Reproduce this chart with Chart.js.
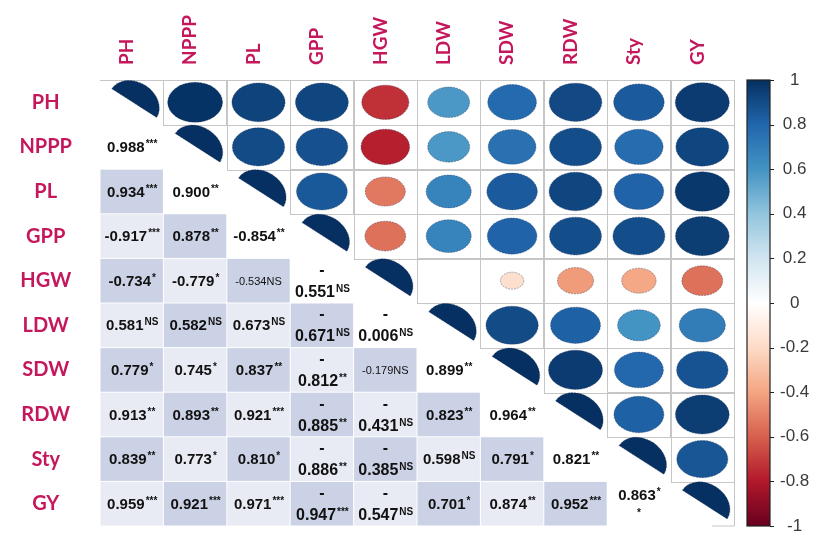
<!DOCTYPE html>
<html>
<head>
<meta charset="utf-8">
<script src="https://cdn.jsdelivr.net/npm/chart.js@4.4.1/dist/chart.umd.min.js"></script>
<style>
  html, body { margin: 0; padding: 0; background: #fff; }
  #wrap { width: 829px; height: 543px; }
</style>
</head>
<body>
<div id="wrap"><canvas id="grafico" width="829" height="543"></canvas></div>
<script>
const variaveis = ["PH", "NPPP", "PL", "GPP", "HGW", "LDW", "SDW", "RDW", "Sty", "GY"];

// triangulo inferior: r (linha i, coluna j < i)
const correlacoes = [
  [],
  [0.988],
  [0.934, 0.900],
  [-0.917, 0.878, -0.854],
  [-0.734, -0.779, -0.534, -0.551],
  [0.581, 0.582, 0.673, -0.671, -0.006],
  [0.779, 0.745, 0.837, -0.812, -0.179, 0.899],
  [0.913, 0.893, 0.921, -0.885, -0.431, 0.823, 0.964],
  [0.839, 0.773, 0.810, -0.886, -0.385, 0.598, 0.791, 0.821],
  [0.959, 0.921, 0.971, -0.947, -0.547, 0.701, 0.874, 0.952, 0.863]
];

const significancia = [
  [],
  ["***"],
  ["***", "**"],
  ["***", "**", "**"],
  ["*", "*", "NS", "NS"],
  ["NS", "NS", "NS", "NS", "NS"],
  ["*", "*", "**", "**", "NS", "**"],
  ["**", "**", "***", "**", "NS", "**", "**"],
  ["**", "*", "*", "**", "NS", "NS", "*", "**"],
  ["***", "***", "***", "***", "NS", "*", "**", "***", "**"]
];

const elipses = [
  [0.99, 0.93, 0.92, -0.73, 0.58, 0.78, 0.91, 0.84, 0.96],
  [0.90, 0.88, -0.78, 0.58, 0.75, 0.89, 0.77, 0.92],
  [0.85, -0.53, 0.67, 0.84, 0.92, 0.81, 0.97],
  [-0.55, 0.67, 0.81, 0.89, 0.89, 0.95],
  [0.006, -0.18, -0.43, -0.39, -0.55],
  [0.90, 0.82, 0.60, 0.70],
  [0.96, 0.79, 0.87],
  [0.82, 0.95],
  [0.86],
  []
];

const ticksBarra = [1, 0.8, 0.6, 0.4, 0.2, 0, -0.2, -0.4, -0.6, -0.8, -1];

const paleta = ["#67001F", "#B2182B", "#D6604D", "#F4A582", "#FDDBC7", "#FFFFFF",
                "#D1E5F0", "#92C5DE", "#4393C3", "#2166AC", "#053061"];

// celulas com texto em formato diferente
const textoPequeno = { "4,2": true, "6,4": true };
const textoQuebrado = { "9,8": true };

const corRotulo = "#c4175c";

function hexParaRgb(h) {
  return [parseInt(h.slice(1, 3), 16), parseInt(h.slice(3, 5), 16), parseInt(h.slice(5, 7), 16)];
}

function corPara(r) {
  const t = (r + 1) / 2 * (paleta.length - 1);
  const i = Math.min(Math.floor(t), paleta.length - 2);
  const f = t - i;
  const a = hexParaRgb(paleta[i]);
  const b = hexParaRgb(paleta[i + 1]);
  const c = a.map((v, k) => Math.round(v + (b[k] - v) * f));
  return `rgb(${c[0]},${c[1]},${c[2]})`;
}

const pontosElipse = [];
elipses.forEach((linha, i) => {
  linha.forEach((r, k) => pontosElipse.push({ x: i + 1 + k + 0.5, y: i + 0.5, r }));
});

const pontosDiag = variaveis.map((_, i) => ({ x: i + 0.5, y: i + 0.5 }));

const pontosTexto = [];
correlacoes.forEach((linha, i) => {
  linha.forEach((r, j) => pontosTexto.push({ x: j + 0.5, y: i + 0.5, r, s: significancia[i][j], i, j }));
});

function desenhaValor(ctx, cx, cy, p) {
  const chave = p.i + "," + p.j;
  const num = Math.abs(p.r).toFixed(3);
  ctx.fillStyle = "#111";
  ctx.textBaseline = "alphabetic";
  ctx.textAlign = "left";

  if (textoPequeno[chave]) {
    ctx.font = "11px 'Liberation Sans'";
    const txt = (p.r < 0 ? "-" : "") + num + p.s;
    const w = ctx.measureText(txt).width;
    ctx.fillText(txt, cx - w / 2, cy + 4);
    return;
  }

  const quebra = p.r < 0 && p.j >= 3;
  const fonte = quebra ? "bold 16px 'Liberation Sans'" : "bold 15px 'Liberation Sans'";
  const principal = quebra ? num : (p.r < 0 ? "-" : "") + num;
  const fonteSig = "bold 10px 'Liberation Sans'";

  ctx.font = fonte;
  const w1 = ctx.measureText(principal).width;
  ctx.font = fonteSig;
  const sig = textoQuebrado[chave] ? "*" : p.s;
  const w2 = ctx.measureText(sig).width;
  const x0 = cx - (w1 + w2) / 2;
  let base = cy + 5;
  if (quebra) {
    ctx.font = "bold 16px 'Liberation Sans'";
    ctx.textAlign = "center";
    ctx.fillText("-", cx, cy - 6);
    ctx.textAlign = "left";
    base = cy + 16;
  }
  if (textoQuebrado[chave]) base = cy - 4;
  ctx.font = fonte;
  ctx.fillText(principal, x0, base);
  ctx.font = fonteSig;
  ctx.fillText(sig, x0 + w1 + 1, base - 5);
  if (textoQuebrado[chave]) {
    ctx.textAlign = "center";
    ctx.fillText("*", cx, base + 16);
  }
}

const corrplot = {
  id: "corrplot",
  beforeDatasetsDraw(chart) {
    const { ctx, scales: { x, y } } = chart;
    const cw = x.getPixelForValue(1) - x.getPixelForValue(0);
    const ch = y.getPixelForValue(1) - y.getPixelForValue(0);
    ctx.save();
    // fundos do triangulo inferior
    chart.data.datasets[2].data.forEach(p => {
      if (p.i - p.j === 1) return;
      ctx.fillStyle = (p.i + p.j) % 2 === 0 ? "#cbd2e5" : "#e8ebf4";
      ctx.fillRect(x.getPixelForValue(p.j) + 0.5, y.getPixelForValue(p.i) + 0.5, cw - 1, ch - 1);
    });
    // grade do triangulo superior
    ctx.strokeStyle = "#c6c6c6";
    ctx.lineWidth = 1;
    chart.data.datasets[0].data.forEach(p => {
      const px = Math.round(x.getPixelForValue(p.x - 0.5)) + 0.5;
      const py = Math.round(y.getPixelForValue(p.y - 0.5)) + 0.5;
      ctx.strokeRect(px, py, Math.round(cw), Math.round(ch));
    });
    const n = variaveis.length;
    ctx.beginPath();
    ctx.moveTo(x.getPixelForValue(0), Math.round(y.getPixelForValue(0)) + 0.5);
    ctx.lineTo(x.getPixelForValue(1), Math.round(y.getPixelForValue(0)) + 0.5);
    ctx.moveTo(Math.round(x.getPixelForValue(n)) + 0.5, y.getPixelForValue(n - 1));
    ctx.lineTo(Math.round(x.getPixelForValue(n)) + 0.5, y.getPixelForValue(n));
    ctx.lineTo(x.getPixelForValue(n - 0.35), y.getPixelForValue(n));
    ctx.stroke();
    ctx.restore();
  },
  afterDatasetsDraw(chart) {
    const { ctx, scales: { x, y, cb }, chartArea } = chart;
    const cw = x.getPixelForValue(1) - x.getPixelForValue(0);
    const ch = y.getPixelForValue(1) - y.getPixelForValue(0);
    ctx.save();

    // elipses
    const metaE = chart.getDatasetMeta(0);
    chart.data.datasets[0].data.forEach((p, k) => {
      const el = metaE.data[k];
      const f = Math.sqrt(Math.abs(p.r));
      if (f < 0.1) return;
      ctx.beginPath();
      ctx.ellipse(el.x, el.y, cw * 0.435 * f, ch * 0.45 * f, 0, 0, Math.PI * 2);
      ctx.fillStyle = corPara(p.r);
      ctx.fill();
      ctx.setLineDash([2, 1]);
      ctx.strokeStyle = "rgba(20,30,60,0.35)";
      ctx.lineWidth = 1;
      ctx.stroke();
      ctx.setLineDash([]);
    });

    // diagonal: meia elipse cortada na diagonal da celula
    const metaD = chart.getDatasetMeta(1);
    const giro = Math.atan2(0.62 * ch, 0.68 * cw);
    metaD.data.forEach(el => {
      ctx.beginPath();
      ctx.ellipse(el.x + 0.04 * cw, el.y + 0.02 * ch, cw * 0.42, ch * 0.47, giro, Math.PI, Math.PI * 2);
      ctx.closePath();
      ctx.fillStyle = corPara(1);
      ctx.fill();
      ctx.setLineDash([2, 1]);
      ctx.strokeStyle = "rgba(20,30,60,0.35)";
      ctx.stroke();
      ctx.setLineDash([]);
    });

    // valores do triangulo inferior
    const metaT = chart.getDatasetMeta(2);
    chart.data.datasets[2].data.forEach((p, k) => {
      const el = metaT.data[k];
      desenhaValor(ctx, el.x, el.y, p);
    });

    // barra de cores
    const bx = chartArea.right + 13;
    const bw = 23;
    const topo = cb.getPixelForValue(1);
    const base = cb.getPixelForValue(-1);
    const grad = ctx.createLinearGradient(0, base, 0, topo);
    paleta.forEach((c, k) => grad.addColorStop(k / (paleta.length - 1), c));
    ctx.fillStyle = grad;
    ctx.fillRect(bx, topo, bw, base - topo);
    ctx.strokeStyle = "#222";
    ctx.lineWidth = 1.2;
    ctx.strokeRect(bx, topo, bw, base - topo);
    ctx.lineWidth = 1;
    ctx.beginPath();
    ticksBarra.forEach(v => {
      const ty = Math.round(cb.getPixelForValue(v)) + 0.5;
      ctx.moveTo(bx + bw, ty);
      ctx.lineTo(bx + bw + 4, ty);
    });
    ctx.stroke();
    ctx.restore();
  }
};

const rotulosCategoria = (escala) => {
  escala.ticks = variaveis.map((_, i) => ({ value: i + 0.5 }));
};

// marcas invisiveis so para afastar os rotulos sem mexer no padding vertical
const gradeOculta = (comprimento) => ({
  display: true,
  drawOnChartArea: false,
  drawTicks: true,
  tickLength: comprimento,
  tickColor: "rgba(0,0,0,0)"
});

new Chart(document.getElementById("grafico"), {
  type: "scatter",
  data: {
    datasets: [
      { label: "elipses", data: pontosElipse, pointRadius: 0, pointHoverRadius: 0 },
      { label: "diagonal", data: pontosDiag, pointRadius: 0, pointHoverRadius: 0 },
      { label: "valores", data: pontosTexto, pointRadius: 0, pointHoverRadius: 0 }
    ]
  },
  options: {
    responsive: false,
    animation: false,
    events: [],
    layout: { padding: { top: 0, left: 0, right: 0, bottom: 17 } },
    plugins: {
      legend: { display: false },
      tooltip: { enabled: false }
    },
    scales: {
      x: {
        type: "linear",
        position: "top",
        min: 0,
        max: 10,
        grid: { display: false, drawTicks: false },
        border: { display: false },
        afterBuildTicks: rotulosCategoria,
        afterFit: s => { s.height = 80; },
        ticks: {
          autoSkip: false,
          minRotation: 90,
          maxRotation: 90,
          padding: 15,
          labelOffset: 18,
          color: corRotulo,
          font: { family: "Lato", weight: "bold", size: 19 },
          callback: (v, i) => variaveis[i]
        }
      },
      y: {
        type: "linear",
        position: "left",
        min: 0,
        max: 10,
        reverse: true,
        grid: gradeOculta(28),
        border: { display: false },
        afterBuildTicks: rotulosCategoria,
        afterFit: s => { s.width = 100; },
        ticks: {
          autoSkip: false,
          crossAlign: "center",
          padding: 0,
          color: corRotulo,
          font: { family: "Lato", weight: "bold", size: 20 },
          callback: (v, i) => variaveis[i]
        }
      },
      cb: {
        type: "linear",
        position: "right",
        min: -1,
        max: 1,
        grid: gradeOculta(46),
        border: { display: false },
        afterBuildTicks: s => { s.ticks = ticksBarra.map(v => ({ value: v })); },
        afterFit: s => { s.width = 95; },
        ticks: {
          autoSkip: false,
          crossAlign: "center",
          padding: 0,
          color: "#3a3a3a",
          font: { family: "Liberation Sans", size: 17 },
          callback: v => String(v)
        }
      }
    }
  },
  plugins: [corrplot]
});
</script>
</body>
</html>
